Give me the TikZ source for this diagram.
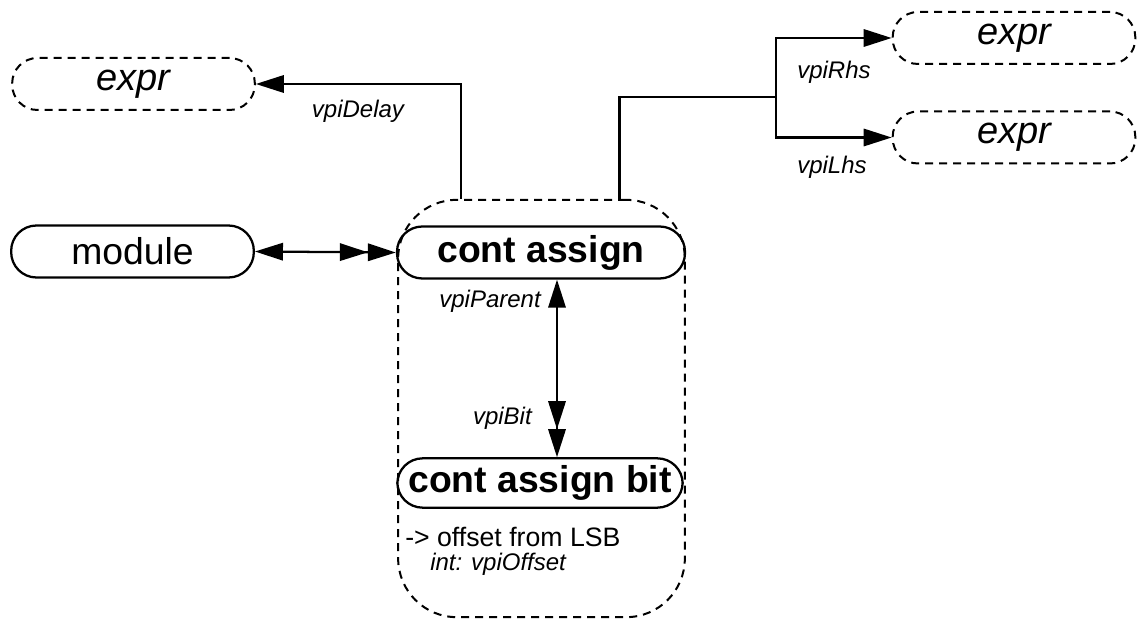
\documentclass[tikz,border=0pt]{standalone}
\usepackage{fontspec}
\setmainfont{Liberation Sans}
\usetikzlibrary{arrows.meta}
\tikzset{tri/.tip={Triangle[length=21pt,width=13pt]}}
\begin{document}
\begin{tikzpicture}[x=0.75pt,y=-0.75pt,
  objbox/.style={draw, line width=1.7pt, rounded corners=19pt, minimum width=182pt, minimum height=39pt, inner sep=0pt, font=\fontsize{28}{32}\selectfont},
  dashbox/.style={objbox, dash pattern=on 6pt off 4.5pt, line width=1.5pt, font=\fontsize{28.5}{32}\selectfont\itshape},
  container/.style={draw, dash pattern=on 6pt off 4.5pt, line width=1.5pt, rounded corners=44pt, minimum width=215pt, minimum height=313pt, inner sep=0pt},
  lbl/.style={font=\fontsize{18}{21}\selectfont\itshape, inner sep=0pt},
  conn/.style={line width=1.7pt},
  arr/.style={conn, -{tri}}
]
\useasboundingbox (0,0) rectangle (1140,623);

\node[container] (cont) at (541.5,408.5) {};
\node[dashbox] (exprL) at (133.5,84) {expr};
\node[dashbox] (exprR1) at (1014,38) {expr};
\node[dashbox] (exprR2) at (1014,137.5) {expr};
\node[objbox] (module) at (132.5,251.5) {module};
\node[objbox, minimum width=216pt, font=\fontsize{28}{32}\selectfont\bfseries] (ca) at (541,252.5) {cont assign};
\node[objbox, minimum width=214pt, minimum height=37pt, font=\fontsize{28}{32}\selectfont\bfseries] (cab) at (540,483) {cont assign bit};

\coordinate (br) at (776,97);

\draw[arr] ([xshift=-60.5pt]cont.north) |- (exprL.east);
\draw[conn] ([xshift=58.5pt]cont.north) |- (br);
\draw[arr] (br) |- (exprR1.west);
\draw[arr] (br) |- (exprR2.west);
\draw[conn, {tri}-{tri[sep=0pt] tri}] (module.east) -- (ca.west);
\draw[conn, {tri}-{tri[sep=0pt] tri}] ([xshift=12pt]ca.south) -- ([xshift=12.75pt]cab.north);

\node[lbl] at (358,111) {vpiDelay};
\node[lbl] at (834,72) {vpiRhs};
\node[lbl] at (832,167) {vpiLhs};
\node[lbl, anchor=east] at (541,301) {vpiParent};
\node[lbl, anchor=east] at (532,418) {vpiBit};
\node[font=\fontsize{20}{24}\selectfont, inner sep=0pt, anchor=west] at (405,537) {-> offset from LSB};
\node[lbl, anchor=west] at (430,564) {int: vpiOffset};
\end{tikzpicture}
\end{document}
